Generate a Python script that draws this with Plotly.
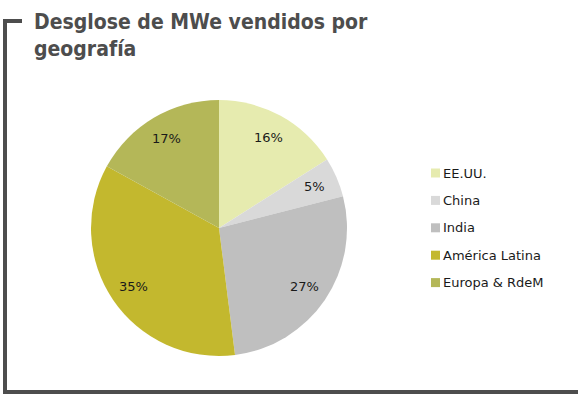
import math
import plotly.graph_objects as go

labels = ["EE.UU.", "China", "India", "América Latina", "Europa & RdeM"]
values = [16, 5, 27, 35, 17]
colors = ["#E6EBAF", "#D9D9D9", "#BFBFBF", "#C3B82E", "#B4B758"]
title_text = "Desglose de MWe vendidos por<br>geografía"

W, H = 578, 394
FONT = "DejaVu Sans, sans-serif"
TFONT = "DejaVu Sans Condensed, sans-serif"

# pie geometry (pixels)
CX, CY, R = 219, 228, 128

def px(x):
    return x / W

def py(y):
    return 1 - y / H

fig = go.Figure()
fig.add_trace(go.Pie(
    labels=labels, values=values, sort=False, direction="clockwise", rotation=0,
    marker=dict(colors=colors, line=dict(width=0)),
    textinfo="none",
    showlegend=False, hoverinfo="label+percent",
    domain=dict(x=[px(CX - R), px(CX + R)], y=[py(CY + R), py(CY - R)]),
))

shapes = [
    dict(type="line", xref="paper", yref="paper", x0=px(5), x1=px(5), y0=py(19), y1=py(393),
         line=dict(color="#4D4D4D", width=4)),
    dict(type="line", xref="paper", yref="paper", x0=px(3), x1=px(22), y0=py(21), y1=py(21),
         line=dict(color="#4D4D4D", width=4)),
    dict(type="line", xref="paper", yref="paper", x0=px(3), x1=px(578), y0=py(392), y1=py(392),
         line=dict(color="#4D4D4D", width=4)),
]
annotations = [
    dict(text="<b>" + title_text + "</b>", xref="paper", yref="paper", x=px(32), y=py(8),
         xanchor="left", yanchor="top", align="left", showarrow=False,
         font=dict(family=TFONT, size=21, color="#4D4D4D")),
]

# percentage labels placed along each slice's mid-angle
total = sum(values)
cum = 0.0
for v in values:
    mid = (cum + v / 2) / total
    cum += v
    theta = math.radians(90 - mid * 360)
    rr = 0.81 * R
    annotations.append(dict(
        text=f"{v / total * 100:.0f}%", xref="paper", yref="paper",
        x=px(CX + rr * math.cos(theta)), y=py(CY - rr * math.sin(theta)),
        xanchor="center", yanchor="middle", showarrow=False,
        font=dict(family=FONT, size=13, color="#1a1a1a")))

# custom legend
for i, (lab, col) in enumerate(zip(labels, colors)):
    yc = 173 + i * 27.4
    shapes.append(dict(type="rect", xref="paper", yref="paper", x0=px(431), x1=px(440),
                       y0=py(yc - 4.5), y1=py(yc + 4.5), fillcolor=col, line=dict(width=0)))
    annotations.append(dict(text=lab, xref="paper", yref="paper", x=px(441), y=py(yc),
                            xanchor="left", yanchor="middle", showarrow=False,
                            font=dict(family=FONT, size=13, color="#1a1a1a")))

fig.update_layout(
    width=W, height=H, margin=dict(l=0, r=0, t=0, b=0),
    paper_bgcolor="white", plot_bgcolor="white",
    shapes=shapes, annotations=annotations, showlegend=False,
)
fig.write_html("out.html", config={"displayModeBar": False},
               post_script="document.body.style.margin='0';document.body.style.overflow='hidden';")
